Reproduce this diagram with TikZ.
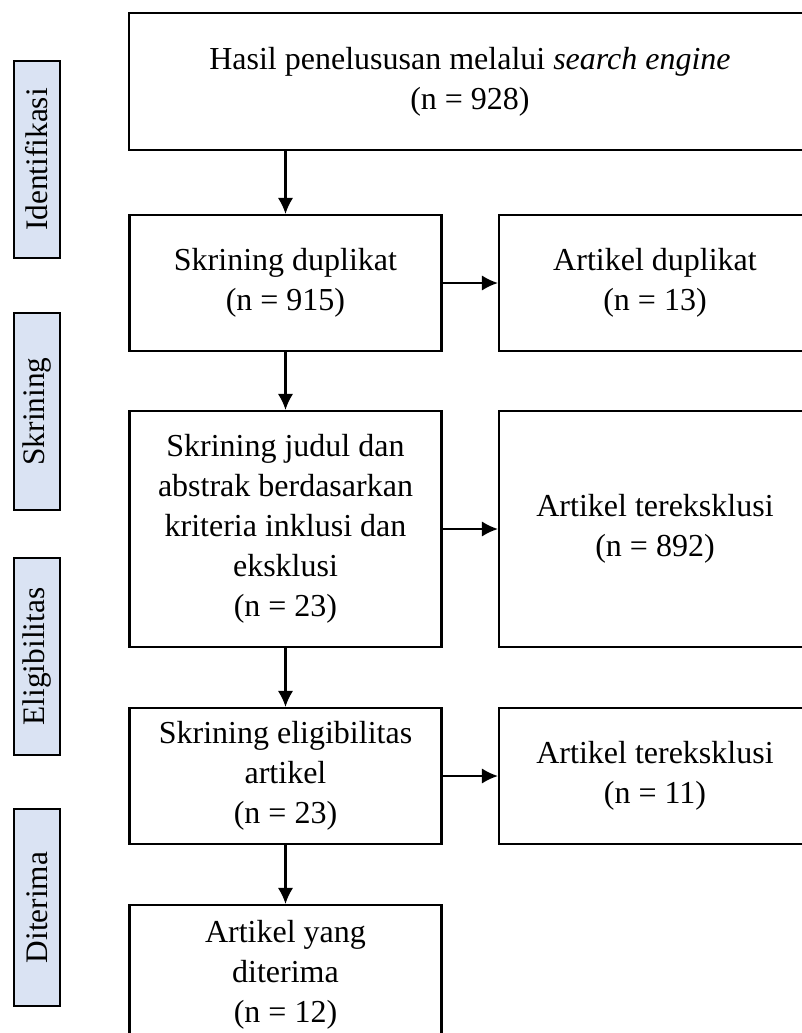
\documentclass[tikz,border=0pt]{standalone}
\usepackage{fontspec}
\setmainfont{Liberation Serif}
\usetikzlibrary{arrows.meta}
\definecolor{labelblue}{RGB}{218,227,243}
\begin{document}
\begin{tikzpicture}[x=0.75pt,y=-0.75pt,
	squarednode/.style={rectangle,draw,line width=1.6pt,minimum width=234pt,minimum height=102pt,align=center,font=\fontsize{24}{30}\selectfont},
	sidenode/.style={rectangle,draw,line width=1.3pt,fill=labelblue,rotate=90,minimum width=147.75pt,minimum height=34.5pt,font=\fontsize{23.5}{29.5}\selectfont},
	>={Latex[length=12pt,width=11.5pt]},line width=1.6pt
	]
	\useasboundingbox (0,0) rectangle (801,1033);
	\path
	+(470,81.5)  node[squarednode,minimum width=511.5pt,minimum height=102.75pt]  (1) {Hasil penelususan melalui \textit{search engine}\\(n = 928)}
	+(285.5,283)  node[squarednode]  (2) {Skrining duplikat\\(n = 915)}
	+(285.5,529)  node[squarednode,minimum height=177pt]  (3) {Skrining judul dan\\abstrak berdasarkan\\kriteria inklusi dan\\eksklusi\\(n = 23)}
	+(285.5,776)  node[squarednode]  (4) {Skrining eligibilitas\\artikel\\(n = 23)}
	+(285.5,975)  node[squarednode,minimum height=105pt]  (5) {Artikel yang\\diterima\\(n = 12)}
	+(655,283)  node[squarednode]  (6) {Artikel duplikat\\(n = 13)}
	+(655,529)  node[squarednode,minimum height=177pt]  (7) {Artikel tereksklusi\\(n = 892)}
	+(655,776)  node[squarednode]  (8) {Artikel tereksklusi\\(n = 11)}
	+(37,159.5)  node[sidenode]  (9) {Identifikasi}
	+(37,411.5)  node[sidenode]  (10) {Skrining}
	+(37,656.5)  node[sidenode]  (11) {Eligibilitas}
	+(37,907.5)  node[sidenode]  (12) {Diterima}
	;
	\draw[->] (1.south -| 2.north)--(2.north);
	\draw[->] (2)--(3);
	\draw[->] (3)--(4);
	\draw[->] (4)--(5);
	\draw[->] (2)--(6);
	\draw[->] (3)--(7);
	\draw[->] (4)--(8);
	\end{tikzpicture}
\end{document}
